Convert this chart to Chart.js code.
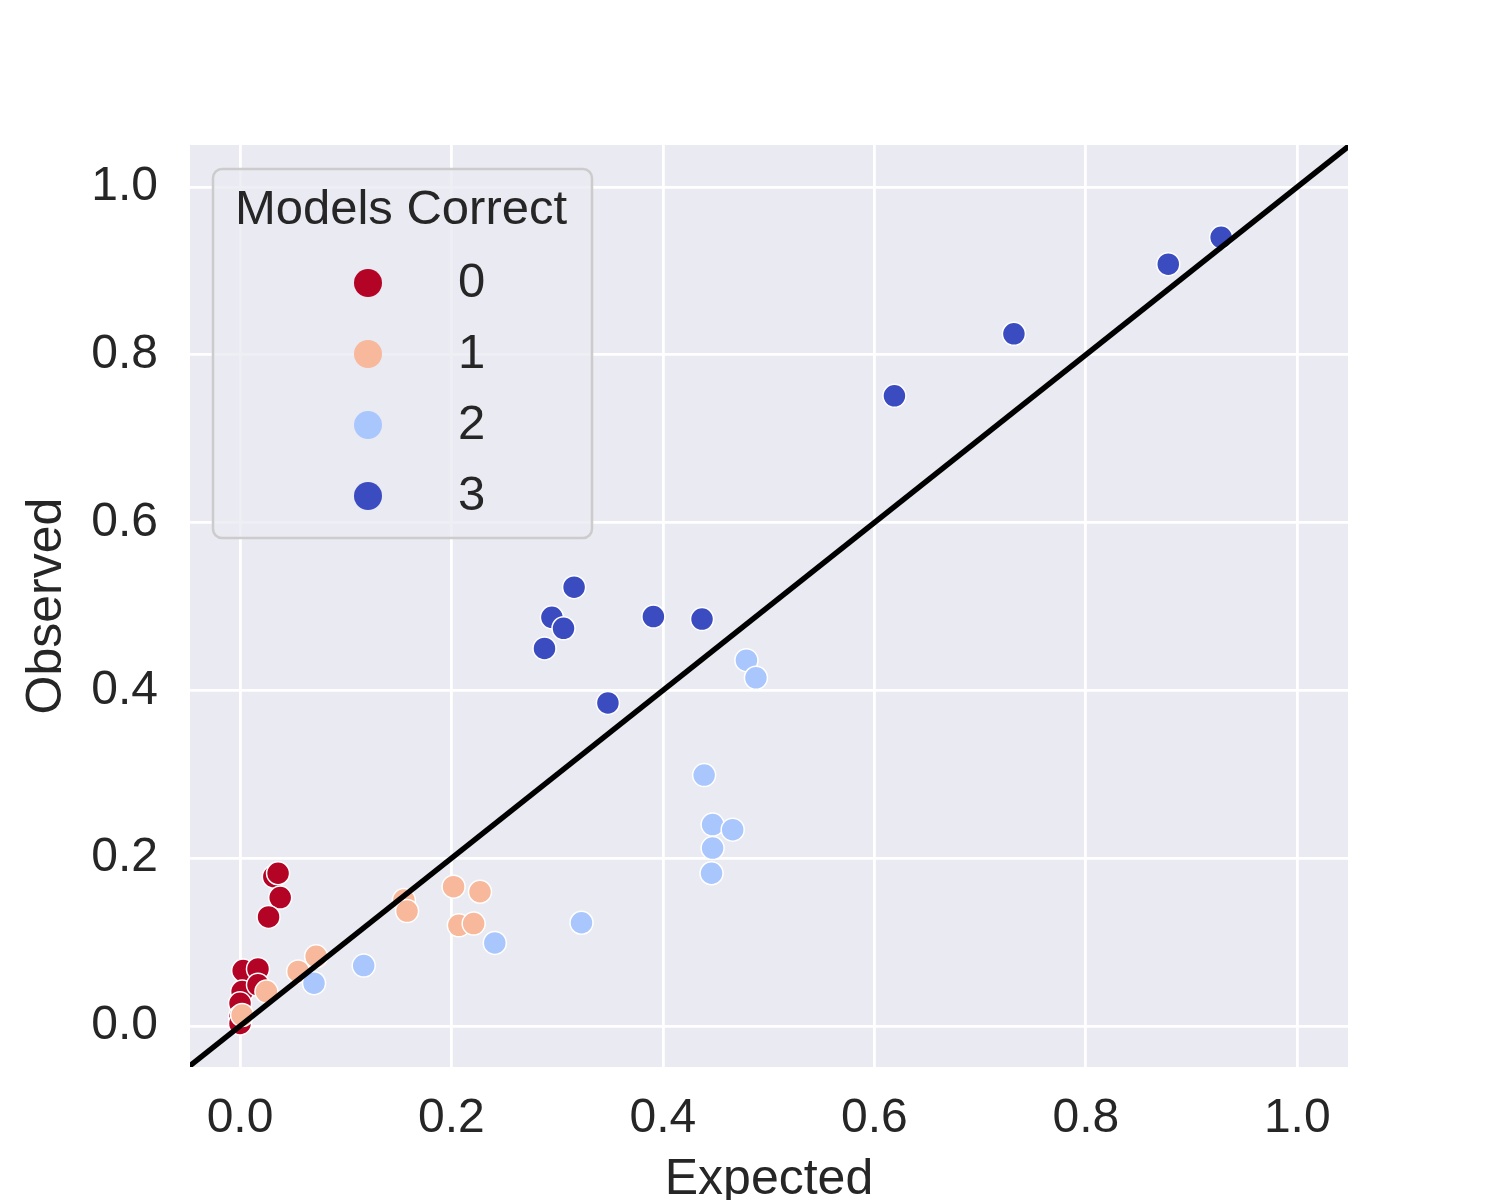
<!DOCTYPE html>
<html>
<head>
<meta charset="utf-8">
<script src="https://cdn.jsdelivr.net/npm/chart.js@4.4.1/dist/chart.umd.min.js"></script>
<style>
  html, body { margin: 0; padding: 0; background: #fff; overflow: hidden; }
  #wrap { width: 1500px; height: 1230px; }
</style>
</head>
<body>
<div id="wrap"><canvas id="c" width="1500" height="1230"></canvas></div>
<script>
// values, per "Models Correct" group
const groups = ['0', '1', '2', '3']
const colors = ['#b40426', '#f7b89c', '#aac7fd', '#3b4cc0']

const expected0 = [0.032, 0.036, 0.038, 0.027, 0.003, 0.017, 0.002, 0.017, 0.000, 0.000, 0.000]
const observed0 = [0.178, 0.182, 0.153, 0.130, 0.066, 0.068, 0.041, 0.049, 0.027, 0.011, 0.003]

const expected1 = [0.025, 0.002, 0.055, 0.072, 0.155, 0.158, 0.202, 0.227, 0.207, 0.221]
const observed1 = [0.041, 0.013, 0.065, 0.083, 0.150, 0.137, 0.166, 0.160, 0.120, 0.122]

const expected2 = [0.070, 0.117, 0.241, 0.323, 0.439, 0.447, 0.466, 0.447, 0.446, 0.479, 0.488]
const observed2 = [0.051, 0.072, 0.099, 0.123, 0.299, 0.240, 0.234, 0.212, 0.182, 0.436, 0.415]

const expected3 = [0.316, 0.295, 0.306, 0.288, 0.391, 0.437, 0.348, 0.619, 0.732, 0.878, 0.928]
const observed3 = [0.523, 0.487, 0.474, 0.450, 0.488, 0.485, 0.385, 0.751, 0.825, 0.908, 0.940]

const diagonal = [-0.05, 1.05]
const tickValues = [0.0, 0.2, 0.4, 0.6, 0.8, 1.0]

const expectedAll = [expected0, expected1, expected2, expected3]
const observedAll = [observed0, observed1, observed2, observed3]

const FONT = "'Liberation Sans', Arial, sans-serif"
const textColor = '#262626'

const pointSets = groups.map((g, i) => ({
  label: g,
  data: expectedAll[i].map((x, k) => ({x: x, y: observedAll[i][k]})),
  backgroundColor: colors[i],
  borderColor: '#ffffff',
  borderWidth: 1.5,
  pointRadius: 11.5,
  pointHoverRadius: 11.5,
  order: 4 - i
}))

const lineSet = {
  label: 'diag',
  data: diagonal.map(v => ({x: v, y: v})),
  showLine: true,
  borderColor: '#000000',
  borderWidth: 5.5,
  pointRadius: 0,
  order: 0
}

// grey panel behind the plot
const panelBg = {
  id: 'panelBg',
  beforeDraw(chart) {
    const {ctx, chartArea: a} = chart
    ctx.save()
    ctx.fillStyle = '#eaeaf2'
    ctx.fillRect(a.left, a.top, a.right - a.left, a.bottom - a.top)
    ctx.restore()
  }
}

// legend drawn inside the axes, upper left
const innerLegend = {
  id: 'innerLegend',
  afterDraw(chart) {
    const ctx = chart.ctx
    ctx.save()
    const bx = 213, by = 169, bw = 379, bh = 369, r = 9
    ctx.beginPath()
    ctx.roundRect(bx, by, bw, bh, r)
    ctx.fillStyle = 'rgba(234,234,242,0.8)'
    ctx.fill()
    ctx.lineWidth = 2.5
    ctx.strokeStyle = '#cccccc'
    ctx.stroke()

    ctx.fillStyle = textColor
    ctx.font = '49px ' + FONT
    ctx.textAlign = 'center'
    ctx.textBaseline = 'middle'
    ctx.fillText('Models Correct', 401, 210)

    const items = chart.data.datasets.filter(ds => ds.label !== 'diag')
    items.forEach((ds, i) => {
      const y = 283 + i * 71
      ctx.beginPath()
      ctx.arc(368, y, 14, 0, Math.PI * 2)
      ctx.fillStyle = ds.backgroundColor
      ctx.fill()
      ctx.fillStyle = textColor
      ctx.textAlign = 'left'
      ctx.fillText(ds.label, 458, y)
    })
    ctx.restore()
  }
}

new Chart(
  document.getElementById('c'),
  {
    type: 'scatter',
    data: {
      datasets: [lineSet, ...pointSets]
    },
    options: {
      responsive: false,
      animation: false,
      layout: {
        padding: {top: 145, right: 152, left: 0, bottom: 0}
      },
      scales: {
        x: {
          type: 'linear',
          min: -0.0473,
          max: 1.048,
          afterBuildTicks: (s) => { s.ticks = tickValues.map(v => ({value: v})) },
          afterFit: (s) => { s.height = 163 },
          grid: { color: '#ffffff', lineWidth: 2.8, drawTicks: false },
          border: { display: false },
          ticks: {
            color: textColor,
            font: { size: 48, family: FONT },
            padding: 23,
            maxRotation: 0,
            callback: (v) => Number(v).toFixed(1)
          },
          title: {
            display: true,
            text: 'Expected',
            color: textColor,
            font: { size: 50, family: FONT },
            padding: { top: 0, bottom: 20 }
          }
        },
        y: {
          type: 'linear',
          min: -0.0489,
          max: 1.050,
          afterBuildTicks: (s) => { s.ticks = tickValues.map(v => ({value: v})) },
          afterFit: (s) => { s.width = 190 },
          grid: { color: '#ffffff', lineWidth: 2.8, drawTicks: false },
          border: { display: false },
          ticks: {
            color: textColor,
            font: { size: 48, family: FONT },
            padding: 32,
            callback: (v) => Number(v).toFixed(1)
          },
          title: {
            display: true,
            text: 'Observed',
            color: textColor,
            font: { size: 50, family: FONT },
            padding: { top: 17, bottom: 0 }
          }
        }
      },
      plugins: {
        legend: { display: false },
        tooltip: { enabled: false }
      }
    },
    plugins: [panelBg, innerLegend]
  }
)
</script>
</body>
</html>
